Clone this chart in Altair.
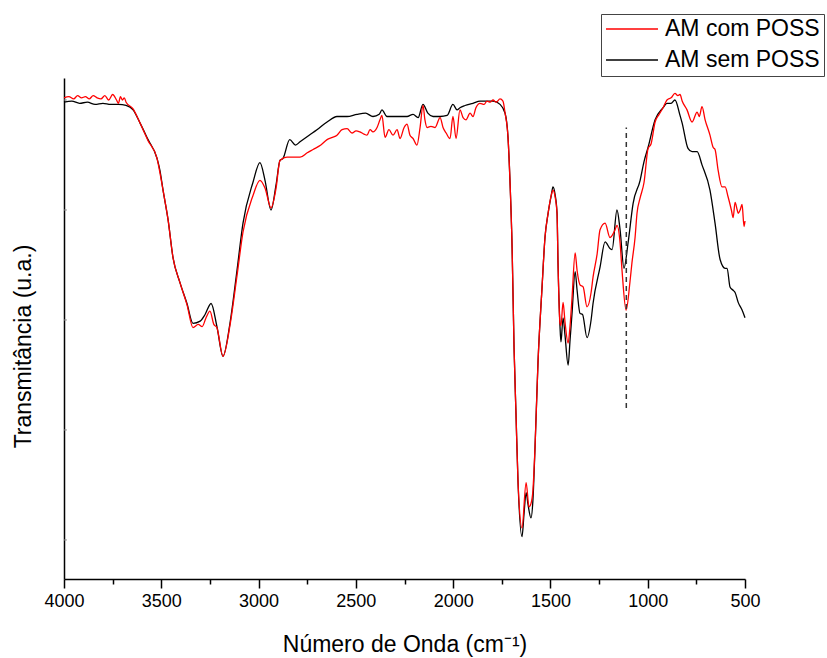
import altair as alt
import pandas as pd

# FTIR spectra of the two samples
SEM = "AM sem POSS"
COM = "AM com POSS"

sem_wn = [4000, 3960, 3920, 3880, 3840, 3800, 3760, 3720, 3681, 3645, 3609, 3568, 3522, 3507, 3491,
          3465, 3440, 3404, 3368, 3337, 3300, 3275, 3244, 3214, 3183, 3147, 3111, 3080, 3029, 2993,
          2967, 2936, 2910, 2890, 2874, 2840, 2810, 2787, 2740, 2700, 2648, 2597, 2545, 2494, 2450,
          2412, 2380, 2366, 2340, 2300, 2273, 2237, 2206, 2180, 2155, 2130, 2103, 2067, 2031, 2001,
          1980, 1965, 1939, 1898, 1862, 1826, 1795, 1759, 1733, 1718, 1708, 1697, 1687, 1677, 1667,
          1646, 1636, 1625, 1615, 1600, 1590, 1579, 1564, 1543, 1528, 1512, 1495, 1487, 1476, 1466,
          1461, 1451, 1446, 1435, 1425, 1409, 1399, 1389, 1373, 1363, 1348, 1335, 1312, 1291, 1281,
          1245, 1219, 1194, 1183, 1158, 1142, 1122, 1101, 1075, 1039, 1019, 998, 962, 921, 901,
          880, 860, 834, 823, 793, 772, 746, 721, 680, 654, 628, 602, 592, 577, 561,
          551, 535, 515, 500]
sem_t = [3.98, 3.99, 3.97, 3.98, 3.96, 3.97, 3.96, 3.96, 3.95, 3.91, 3.79, 3.64, 3.47, 3.36, 3.18,
         2.91, 2.57, 2.34, 2.15, 1.97, 1.99, 2.05, 2.15, 1.94, 1.67, 1.97, 2.45, 2.88, 3.25, 3.43,
         3.27, 3.00, 3.23, 3.45, 3.47, 3.64, 3.59, 3.62, 3.68, 3.73, 3.80, 3.85, 3.85, 3.87, 3.88,
         3.85, 3.87, 3.91, 3.85, 3.85, 3.85, 3.85, 3.87, 3.84, 3.96, 3.88, 3.85, 3.85, 3.86, 3.96,
         3.91, 3.93, 3.95, 3.97, 3.99, 3.99, 3.99, 3.96, 3.88, 3.66, 3.27, 2.66, 1.75, 1.15, 0.55,
         0.03, 0.23, 0.43, 0.32, 0.20, 0.36, 0.85, 1.61, 2.30, 2.75, 2.97, 3.14, 3.21, 3.14, 2.97,
         2.52, 1.95, 1.80, 2.02, 1.86, 1.59, 1.82, 2.06, 2.44, 2.27, 2.06, 2.05, 1.84, 2.00, 2.15,
         2.48, 2.71, 2.65, 2.64, 3.00, 2.82, 2.47, 2.70, 3.06, 3.27, 3.44, 3.57, 3.82, 3.93, 3.97,
         3.97, 4.00, 3.86, 3.79, 3.56, 3.53, 3.53, 3.41, 3.18, 2.88, 2.55, 2.47, 2.47, 2.30, 2.27,
         2.25, 2.16, 2.09, 2.02]

com_wn = [4000, 3975, 3950, 3930, 3910, 3890, 3870, 3850, 3830, 3810, 3790, 3770, 3750, 3730, 3720,
          3710, 3700, 3690, 3681, 3645, 3609, 3568, 3522, 3491, 3465, 3440, 3404, 3368, 3337, 3310,
          3290, 3270, 3250, 3230, 3214, 3183, 3147, 3111, 3080, 3029, 2993, 2967, 2936, 2910, 2890,
          2854, 2828, 2787, 2750, 2720, 2680, 2648, 2620, 2597, 2571, 2545, 2520, 2499, 2479, 2458,
          2443, 2427, 2412, 2391, 2376, 2366, 2350, 2330, 2309, 2288, 2273, 2252, 2237, 2222, 2206,
          2186, 2170, 2155, 2145, 2134, 2114, 2093, 2067, 2052, 2036, 2016, 2001, 1985, 1965, 1949,
          1934, 1913, 1898, 1883, 1862, 1841, 1826, 1810, 1795, 1779, 1759, 1744, 1733, 1718, 1708,
          1697, 1687, 1677, 1667, 1646, 1625, 1610, 1600, 1590, 1579, 1564, 1543, 1528, 1512, 1495,
          1487, 1476, 1466, 1461, 1451, 1446, 1435, 1425, 1409, 1399, 1389, 1373, 1363, 1348, 1332,
          1312, 1291, 1281, 1260, 1245, 1219, 1194, 1168, 1158, 1142, 1132, 1111, 1091, 1081, 1065,
          1055, 1039, 1019, 998, 983, 962, 941, 921, 901, 880, 860, 845, 834, 823, 798,
          772, 746, 735, 721, 705, 680, 664, 654, 638, 618, 602, 587, 570, 561, 551,
          540, 535, 525, 515, 505, 500]
com_t = [4.02, 4.03, 4.01, 4.04, 4.02, 4.03, 4.01, 4.04, 4.02, 4.01, 4.04, 4.00, 4.05, 4.00, 3.97,
         4.03, 4.00, 4.02, 3.98, 3.92, 3.79, 3.63, 3.47, 3.18, 2.91, 2.57, 2.34, 2.14, 1.93, 1.96,
         1.94, 2.02, 2.08, 1.96, 1.93, 1.67, 1.95, 2.40, 2.80, 3.13, 3.27, 3.20, 3.02, 3.20, 3.45,
         3.48, 3.48, 3.48, 3.52, 3.55, 3.59, 3.64, 3.66, 3.68, 3.73, 3.74, 3.70, 3.72, 3.71, 3.69,
         3.68, 3.73, 3.71, 3.75, 3.82, 3.86, 3.66, 3.73, 3.68, 3.73, 3.65, 3.75, 3.78, 3.68, 3.65,
         3.59, 3.75, 3.95, 3.82, 3.75, 3.76, 3.75, 3.84, 3.75, 3.70, 3.65, 3.85, 3.65, 3.91, 3.84,
         3.82, 3.88, 3.85, 3.93, 3.97, 3.96, 3.99, 3.98, 4.00, 3.98, 4.01, 3.99, 3.88, 3.66, 3.27,
         2.66, 1.75, 1.15, 0.55, 0.11, 0.52, 0.30, 0.33, 0.45, 0.85, 1.61, 2.30, 2.75, 2.97, 3.14,
         3.18, 3.12, 2.97, 2.52, 1.97, 1.95, 2.16, 1.98, 1.79, 1.95, 2.20, 2.61, 2.45, 2.32, 2.30,
         2.12, 2.25, 2.39, 2.60, 2.82, 2.88, 2.75, 2.82, 2.86, 2.70, 2.45, 2.09, 2.35, 2.52, 2.75,
         2.97, 3.11, 3.25, 3.56, 3.60, 3.80, 3.87, 3.93, 4.00, 4.02, 4.06, 4.04, 4.05, 3.99, 3.91,
         3.80, 3.89, 3.85, 3.94, 3.82, 3.68, 3.57, 3.55, 3.36, 3.21, 3.21, 3.12, 3.00, 2.93, 3.07,
         3.00, 2.97, 3.00, 3.05, 2.85, 2.90]

# axis ticks
major_ticks = [4000, 3500, 3000, 2500, 2000, 1500, 1000, 500]
minor_ticks = [3750, 3250, 2750, 2250, 1750, 1250, 750]
y_ticks = [0, 1, 2, 3, 4]

# vertical reference line at the Si-O-Si band
marker_wn = [1110]
marker_lo = [1.2]
marker_hi = [3.75]

sem_df = pd.DataFrame({"wn": sem_wn, "t": sem_t, "amostra": SEM})
com_df = pd.DataFrame({"wn": com_wn, "t": com_t, "amostra": COM})
ytick_df = pd.DataFrame({"t": y_ticks, "x0": 4000, "x1": 3985})
marker_df = pd.DataFrame({"wn": marker_wn, "lo": marker_lo, "hi": marker_hi})

FONT = "Liberation Sans"

x_scale = alt.Scale(domain=[500, 4000], reverse=True, nice=False, zero=False)
y_scale = alt.Scale(domain=[-0.355, 4.2], nice=False, zero=False)

major_axis = alt.Axis(values=major_ticks, format="d", labelFlush=False, tickSize=9,
                      labelPadding=4, grid=False, orient="bottom",
                      title="Número de Onda (cm⁻¹)",
                      titleBaseline="alphabetic", titleY=72)
minor_axis = alt.Axis(values=minor_ticks, tickSize=5, labels=False, domain=False,
                      grid=False, orient="bottom", title=None)
y_axis = alt.Axis(ticks=False, labels=False, grid=False, title="Transmitância (u.a.)",
                  titleAngle=270, titleAlign="center", titleBaseline="middle",
                  titleX=-41, titleY=268)

color_scale = alt.Scale(domain=[COM, SEM], range=["#ff0000", "#000000"])
legend = alt.Legend(title=None, orient="none", legendX=537, legendY=-64,
                    symbolType="stroke", symbolSize=2700, symbolStrokeWidth=1.5,
                    clipHeight=22, rowPadding=8, padding=4, labelOffset=6,
                    labelFont=FONT, labelFontSize=23, labelColor="black",
                    strokeColor="#444", fillColor="white")


def spectrum(df):
    return alt.Chart(df).mark_line(strokeWidth=1.3, interpolate="monotone").encode(
        x=alt.X("wn:Q", scale=x_scale, axis=major_axis),
        y=alt.Y("t:Q", scale=y_scale, axis=y_axis),
        color=alt.Color("amostra:N", scale=color_scale, legend=legend),
    )


y_tick_marks = alt.Chart(ytick_df).mark_rule(color="#888", strokeWidth=1).encode(
    x=alt.X("x0:Q", scale=x_scale, axis=major_axis),
    x2="x1:Q",
    y=alt.Y("t:Q", scale=y_scale, axis=y_axis),
)

spectra = alt.layer(spectrum(sem_df), spectrum(com_df), y_tick_marks)

marker = alt.Chart(marker_df).mark_rule(color="#333", strokeWidth=1.5, strokeDash=[5, 4]).encode(
    x=alt.X("wn:Q", scale=x_scale, axis=minor_axis),
    y=alt.Y("lo:Q", scale=y_scale, axis=y_axis),
    y2="hi:Q",
)

chart = alt.layer(spectra, marker).resolve_axis(x="independent").properties(
    width=681,
    height=501,
    padding={"left": 64, "top": 78, "right": 82, "bottom": 79},
    autosize=alt.AutoSizeParams(type="none"),
).configure_view(stroke=None).configure_axis(
    labelFont=FONT, labelFontSize=18, labelColor="black",
    titleFont=FONT, titleFontSize=23, titleFontWeight="normal", titleColor="black",
    domainColor="black", domainWidth=1.5, tickColor="black", tickWidth=1.5,
)

chart.save("out.html", embed_options={"renderer": "svg", "actions": False})
